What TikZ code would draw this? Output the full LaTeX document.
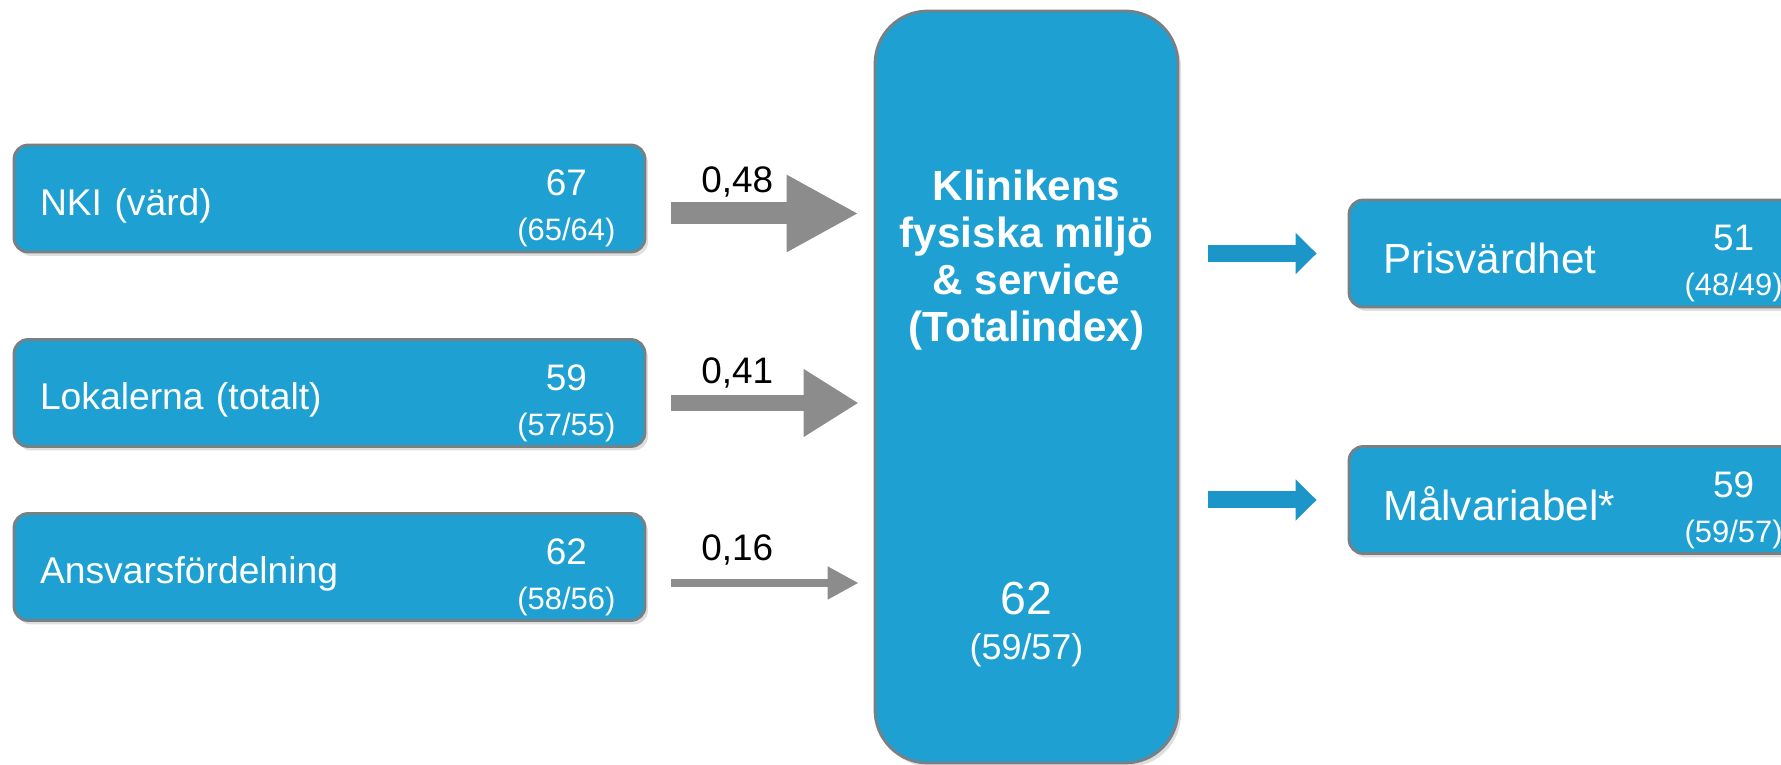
\documentclass[tikz,border=0pt]{standalone}
\usepackage{fontspec}
\setmainfont{Liberation Sans}
\usepackage{tikz}
\usetikzlibrary{
	arrows.meta,
	calc,
	positioning,
	shadows,
}
\definecolor{boxblue}{RGB}{30,161,210}
\definecolor{boxedge}{RGB}{120,128,132}
\definecolor{greyarrow}{RGB}{140,140,140}
\definecolor{bluearrow}{RGB}{28,150,200}
\tikzset{factor box/.style={
	draw=boxedge,
	fill=boxblue,
	line width=0.8pt,
	rounded corners=4pt,
	drop shadow={opacity=0.25, shadow xshift=0.03cm, shadow yshift=-0.04cm},
	text=white,
	align=left,
	anchor=center,
	inner xsep=0.26cm,
	text width=5.79cm,
	text height=9.5pt,
	text depth=0pt,
	minimum height=1.07cm,
	font=\fontsize{10.6}{12}\selectfont,
}}
\tikzset{result box/.style={
	factor box,
	inner xsep=0.34cm,
	text width=4.13cm,
	text height=11.5pt,
	font=\fontsize{12}{14}\selectfont,
}}
\tikzset{core box/.style={
	draw=boxedge,
	fill=boxblue,
	line width=0.8pt,
	rounded corners=15pt,
	drop shadow={opacity=0.25, shadow xshift=0.03cm, shadow yshift=-0.04cm},
	minimum width=3.03cm,
	minimum height=7.52cm,
}}
\tikzset{score/.style={
	text=white,
	align=center,
	inner sep=0pt,
	font=\fontsize{10.5}{12.8}\selectfont,
}}
\tikzset{arrow label/.style={
	text=black,
	inner sep=1pt,
	font=\fontsize{10.5}{12}\selectfont,
}}
\tikzset{grey arrow/.style={
	draw=greyarrow,
	shorten <=0.25cm,
	shorten >=0.15cm,
}}
\tikzset{blue arrow/.style={
	draw=bluearrow,
	line width=0.17cm,
	shorten <=0.29cm,
	shorten >=0.31cm,
	-{Triangle[length=0.21cm, width=0.4cm, fill=bluearrow]},
}}
\newcommand{\subscore}[1]{{\fontsize{8.8}{12.8}\selectfont #1}}

\begin{document}
\begin{tikzpicture}
\useasboundingbox (0,0) rectangle (17.81,7.65);

\node[factor box](nki) 		at (3.295,5.665) {NKI (värd)};
\node[factor box](lokal) 	at (3.295,3.72) {Lokalerna (totalt)};
\node[factor box](ansvar) 	at (3.295,1.98) {Ansvarsfördelning};

\node[score](nki-score) 	at ([xshift=-0.8cm,yshift=-0.1cm]nki.east) {67\\\subscore{(65/64)}};
\node[score](lokal-score) 	at ([xshift=-0.8cm,yshift=-0.1cm]lokal.east) {59\\\subscore{(57/55)}};
\node[score](ansvar-score) 	at ([xshift=-0.8cm,yshift=-0.1cm]ansvar.east) {62\\\subscore{(58/56)}};

\node[core box](core) at (10.265,3.78) {};
\node[score, font=\bfseries\fontsize{12}{13.4}\selectfont](core-title)
	at ([yshift=1.27cm]core.center) {Klinikens\\fysiska miljö\\\& service\\(Totalindex)};
\node[score, font=\fontsize{13.2}{13}\selectfont](core-score)
	at ([yshift=-2.375cm]core.center) {62\\{\fontsize{10.2}{13}\selectfont(59/57)}};

\node[result box](pris) 	at (15.895,5.115) {Prisvärdhet};
\node[result box](mal) 		at (15.895,2.65) {Målvariabel*};

\node[score](pris-score) 	at ([xshift=3.86cm,yshift=-0.1cm]pris.west) {51\\\subscore{(48/49)}};
\node[score](mal-score) 	at ([xshift=3.86cm,yshift=-0.1cm]mal.west) {59\\\subscore{(59/57)}};

% factors -> core
\draw[grey arrow, line width=0.22cm, -{Triangle[length=0.72cm, width=0.72cm, fill=greyarrow]}]
	([yshift=-0.15cm]nki.east) -- ([yshift=-0.15cm]nki.east -| core.west)
node[arrow label, pos=0.4, above=0.02cm] {0,48};

\draw[grey arrow, line width=0.16cm, -{Triangle[length=0.55cm, width=0.64cm, fill=greyarrow]}]
	([yshift=-0.1cm]lokal.east) -- ([yshift=-0.1cm]lokal.east -| core.west)
node[arrow label, pos=0.4, above=0.03cm] {0,41};

\draw[grey arrow, line width=0.08cm, -{Triangle[length=0.31cm, width=0.31cm, fill=greyarrow]}]
	([yshift=-0.16cm]ansvar.east) -- ([yshift=-0.16cm]ansvar.east -| core.west)
node[arrow label, pos=0.4, above=0.1cm] {0,16};

% core -> results
\draw[blue arrow] (core.east |- pris.west) -- (pris.west);
\draw[blue arrow] (core.east |- mal.west) -- (mal.west);

\end{tikzpicture}
\end{document}
